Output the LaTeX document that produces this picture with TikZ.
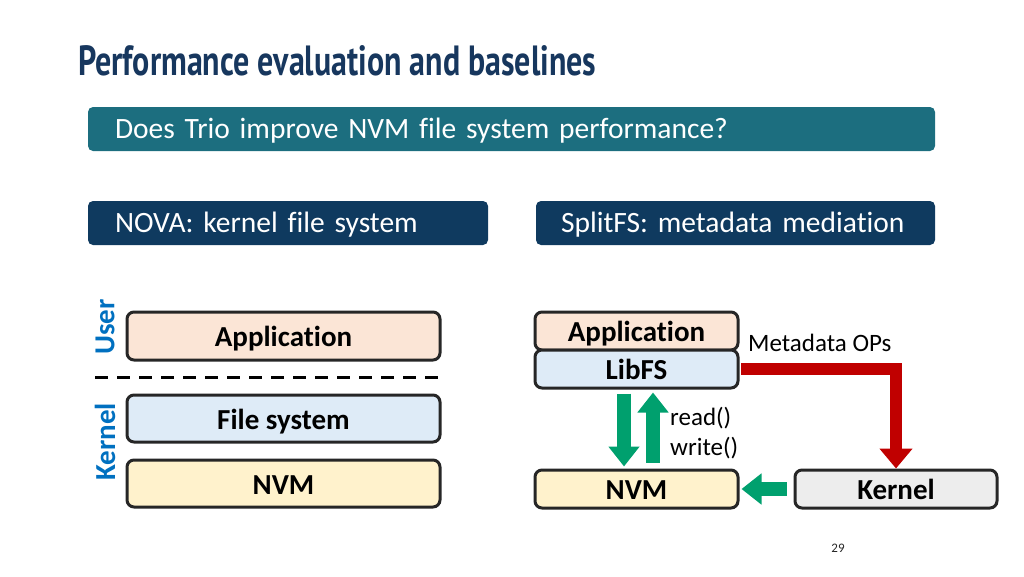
\documentclass[tikz,border=0pt]{standalone}
\usepackage{graphicx}
\usepackage{fontspec}
\setmainfont{Carlito}[Ligatures={NoCommon}]
\newfontfamily\titlefont{PT Sans}
\usetikzlibrary{arrows.meta}
\definecolor{titlenavy}{HTML}{17375E}
\definecolor{bannerteal}{HTML}{1C6E7F}
\definecolor{boxnavy}{HTML}{0F3A5F}
\definecolor{edge}{HTML}{262626}
\definecolor{peach}{HTML}{FBE5D6}
\definecolor{lightblue}{HTML}{DEEBF7}
\definecolor{lightyellow}{HTML}{FFF2CC}
\definecolor{lightgrey}{HTML}{EDEDED}
\definecolor{userblue}{HTML}{0070C0}
\definecolor{arrowred}{HTML}{C00000}
\definecolor{arrowgreen}{HTML}{00A06E}
\begin{document}
\begin{tikzpicture}[x=1pt,y=-1pt,
  banner/.style={rounded corners=5pt, text=white, inner ysep=0pt,
    font=\fontsize{29.5}{35}\selectfont, text height=22pt, text depth=3pt, align=left},
  layer/.style={draw=edge, line width=3pt, rounded corners=7pt, inner sep=0pt,
    font=\fontsize{29}{34}\selectfont\bfseries, text height=21pt, text depth=0pt},
  sidelabel/.style={rotate=90, text=userblue, font=\fontsize{29}{34}\selectfont\bfseries, inner sep=0pt},
  plainlabel/.style={anchor=west, inner sep=0pt, font=\fontsize{25}{30}\selectfont},
  redarrow/.style={draw=arrowred, line width=12pt, -{Triangle[width=32pt,length=20pt]}},
  greenarrow/.style={draw=arrowgreen, line width=14pt, -{Triangle[width=30pt,length=20pt]}},
  separator/.style={line width=3pt, dash pattern=on 13pt off 9pt}
]
\useasboundingbox (0,0) rectangle (1024,576);

% title
\node[anchor=base west, inner sep=0pt, text=titlenavy] (title) at (78,75)
  {\resizebox{518pt}{30pt}{\titlefont\bfseries Performance evaluation and baselines}};

% banners
\node[banner, fill=bannerteal, minimum width=847pt, minimum height=44pt,
  inner xsep=27pt, text width=793pt] (question) at (511.5,129)
  {Does Trio improve NVM file system performance?};
\node[banner, fill=boxnavy, minimum width=400pt, minimum height=44pt,
  inner xsep=27pt, text width=346pt] (nova) at (288,223)
  {NOVA: kernel file system};
\node[banner, fill=boxnavy, minimum width=399pt, minimum height=44pt,
  inner xsep=25pt, text width=349pt] (splitfs) at (735.5,223)
  {SplitFS: metadata mediation};

% left stack
\node[layer, fill=peach, minimum width=313pt, minimum height=48pt] (app) at (283.5,336) {Application};
\node[layer, fill=lightblue, minimum width=313pt, minimum height=47pt] (fs) at (283.5,418.5) {File system};
\node[layer, fill=lightyellow, minimum width=313pt, minimum height=47pt] (nvm) at (283.5,483.5) {NVM};
\coordinate (sepL) at (95,377);
\coordinate (sepR) at (445,377);
\draw[separator] (sepL) -- (sepR);
\node[sidelabel] (user) at (105,327) {User};
\node[sidelabel] (kernellbl) at (105,442) {Kernel};

% right stack
\node[layer, fill=peach, minimum width=203pt, minimum height=38pt] (rapp) at (636.5,331) {Application};
\node[layer, fill=lightblue, minimum width=203pt, minimum height=38pt] (libfs) at (636.5,369) {LibFS};
\node[layer, fill=lightyellow, minimum width=203pt, minimum height=38pt] (rnvm) at (636.5,489) {NVM};
\node[layer, fill=lightgrey, minimum width=202pt, minimum height=38pt] (kernel) at (896,489) {Kernel};

% labels
\node[plainlabel] (meta) at (748,343) {Metadata OPs};
\node[plainlabel] (readlbl) at (670,418) {read()};
\node[plainlabel] (writelbl) at (670,448) {write()};

% arrows
\draw[redarrow, shorten <=1.5pt] (libfs.east) -| (kernel.north);
\coordinate (gdown) at (624,0);
\coordinate (gup) at (653,0);
\draw[greenarrow, shorten <=4pt, shorten >=2pt] (gdown |- libfs.south) -- (gdown |- rnvm.north);
\draw[greenarrow, shorten <=6pt, shorten >=3pt] (gup |- rnvm.north) -- (gup |- libfs.south);
\draw[greenarrow, shorten <=7pt, shorten >=2pt] (kernel.west) -- (rnvm.east);

% page number
\node[inner sep=0pt, text=edge, font=\fontsize{13}{15}\selectfont] (page) at (838,548) {29};
\end{tikzpicture}
\end{document}
